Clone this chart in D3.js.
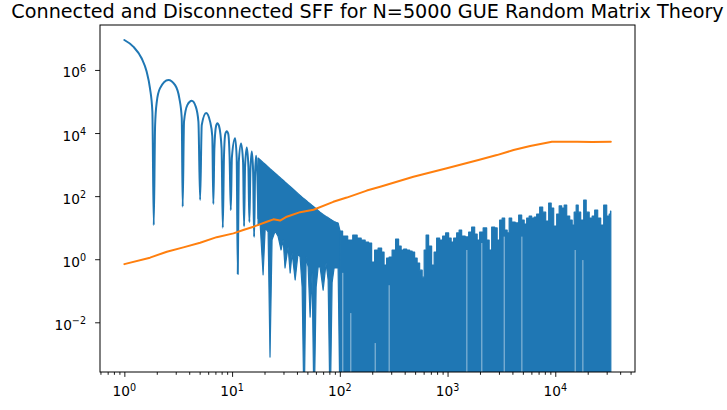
<!DOCTYPE html>
<html>
<head>
<meta charset="utf-8">
<script src="https://cdnjs.cloudflare.com/ajax/libs/d3/7.8.5/d3.min.js"></script>
<style>
  body { margin: 0; background: #fff; }
  svg { display: block; font-family: "DejaVu Sans", sans-serif; }
</style>
</head>
<body>
<div id="chart"></div>
<script>
// disconnected SFF, the early lobes (time, value)
var lobeT = [1, 1.21, 1.45, 1.61, 1.73, 1.82, 1.875,
  1.93, 2.0, 2.14, 2.56, 2.96, 3.24, 3.41, 3.48,
  3.58, 3.85, 4.22, 4.6, 4.87, 5.05,
  5.23, 5.74, 6.25, 6.55, 6.7,
  6.85, 7.1, 7.3, 7.57, 7.99, 8.2,
  8.41, 8.65, 8.93, 9.22, 9.48, 9.73,
  9.96, 10.66, 11.03, 11.3,
  11.54, 12.12, 12.65, 12.92,
  13.2, 13.69, 14.17, 14.47,
  14.79, 15.24, 15.67, 16.01,
  16.35, 16.7, 17.17, 17.54];
var lobeV = [8.9e6, 5.5e6, 2.3e6, 8.9e5, 2.6e5, 4.8e4, 12,
  1.8e4, 9.8e4, 2.6e5, 4.8e5, 3.3e5, 1.26e5, 3.0e4, 46,
  2.3e4, 7.8e4, 1.05e5, 6.9e4, 2.3e4, 76,
  1.8e4, 4.3e4, 2.3e4, 8e3, 56,
  3.2e3, 1.66e4, 2.04e4, 1.66e4, 3.2e3, 10,
  1.8e3, 9.3e3, 1.15e4, 9.3e3, 1.8e3, 36,
  1.7e3, 6.8e3, 1.7e3, 0.34,
  1.2e3, 4.7e3, 1.2e3, 11,
  870, 3.5e3, 870, 15,
  640, 2.6e3, 640, 5.1,
  480, 1.9e3, 480, 20];

// disconnected SFF, dense part: peaks and troughs of the fast oscillation
var denseT = [17.43, 18.2, 19.4, 20.3, 21.6, 22.5, 23.5, 25.1, 26.7, 28.5,
  29.8, 31.0, 33.1, 34.6, 36.1, 38.5, 41.0, 42.8, 44.7, 46.6,
  48.7, 50.8, 53.0, 55.3, 57.7, 60.3, 62.9, 65.6, 70.0, 74.6,
  77.9, 81.3, 84.8, 88.5, 92.4, 96.4, 100.6,
  112, 125, 139, 151, 165, 179, 191, 204, 217, 237,
  252, 263, 281, 293, 319, 340, 363, 379, 404, 431,
  459, 479, 511, 533, 569, 594, 619, 646, 689, 735,
  767, 818, 872, 930, 991, 1057, 1103, 1177, 1254, 1309,
  1396, 1521, 1621, 1729, 1843, 1924, 2051, 2235, 2382, 2486,
  2651, 2827, 2950, 3145, 3283, 3500, 3653, 3813, 4065, 4429,
  4722, 5035, 5255, 5603, 5848, 6235, 6508, 6939, 7398, 7887,
  8409, 8965, 9359, 9979, 10640, 11100, 11840, 12360, 13180, 14050,
  14660, 15300, 15970, 16670, 17770, 18950, 19780, 21550, 22490, 23980,
  25560, 27260, 29060, 30990, 32340, 32768];
var denseHi = [1620, 1418, 1164, 1028, 843, 739, 648, 537, 441, 362,
  320, 281, 230, 202, 178, 146, 120, 105, 92, 82,
  73, 64, 57, 51, 45, 40, 35, 31, 26, 22.6,
  20.8, 18.8, 17.1, 15.7, 14.8, 14.1, 7.8,
  5.4, 4.06, 5.85, 4.7, 4.06, 3.5, 3.26, 0.81, 1.96, 2.26,
  1.69, 0.65, 1.09, 1.17, 1.96, 4.37, 2.62, 1.96, 2.1, 1.96,
  1.82, 1.69, 1.09, 0.76, 0.45, 0.27, 1.96, 5.85, 2.62, 0.65,
  1.69, 4.7, 4.06, 5.4, 6.8, 4.7, 3.5, 4.7, 6.8, 8.4,
  5.4, 5.1, 7.3, 10.5, 6.3, 4.06, 7.3, 9.8, 4.06, 1.96,
  10.5, 9.8, 4.06, 17.5, 20.2, 8.4, 6.8, 20.2, 15.1, 14.1,
  25.2, 17.5, 13.1, 20.2, 23.4, 20.2, 21.8, 27.1, 45, 31,
  16.3, 60.5, 42, 11.3, 27.1, 49, 42, 52.4, 23.4, 17.5,
  12.1, 31, 52.4, 31, 17.5, 75, 31, 20.2, 23.4, 36.3,
  20.2, 12.1, 52.4, 23.4, 27.1, 33.8];
var denseLo = [12.1, 14.1, 0.32, 9.8, 7.3, 7.9e-4, 4.1, 7.8, 5.4, 1.96,
  4.1, 0.53, 2.44, 0.37, 1.57, 0.22, 1.57, 1.17, 0.13, 1e-5,
  1.17, 0.57, 0.0147, 0.37, 1e-5, 0.13, 0.57, 0.57, 0.105, 0.76,
  0.22, 1e-5, 0.18, 0.53, 0.53, 0.53, 1e-5,
  1e-5, 1e-5, 1e-5, 1e-5, 1e-5, 1e-5, 1e-5, 1e-5, 1e-5, 1e-5,
  1e-5, 1e-5, 1e-5, 1e-5, 1e-5, 1e-5, 1e-5, 1e-5, 1e-5, 1e-5,
  1e-5, 1e-5, 1e-5, 1e-5, 1e-5, 1e-5, 1e-5, 1e-5, 1e-5, 1e-5,
  1e-5, 1e-5, 1e-5, 1e-5, 1e-5, 1e-5, 1e-5, 1e-5, 1e-5, 1e-5,
  1e-5, 1e-5, 1e-5, 1e-5, 1e-5, 1e-5, 1e-5, 1e-5, 1e-5, 1e-5,
  1e-5, 1e-5, 1e-5, 1e-5, 1e-5, 1e-5, 1e-5, 1e-5, 1e-5, 1e-5,
  1e-5, 1e-5, 1e-5, 1e-5, 1e-5, 1e-5, 1e-5, 1e-5, 1e-5, 1e-5,
  1e-5, 1e-5, 1e-5, 1e-5, 1e-5, 1e-5, 1e-5, 1e-5, 1e-5, 1e-5,
  1e-5, 1e-5, 1e-5, 1e-5, 1e-5, 1e-5, 1e-5, 1e-5, 1e-5, 1e-5,
  1e-5, 1e-5, 1e-5, 1e-5, 1e-5, 1e-5];

// times where the troughs stay above a floor (thin pale gaps in the band)
var gapT = [106.6, 126.5, 213, 287, 1511, 2080, 3357, 4897, 15300, 18040];
var gapV = [0.37, 0.0196, 2.2e-3, 0.15, 1.96, 3.26, 5.2, 5.2, 1.96, 0.94];

// connected SFF (ramp and plateau)
var rampT = [1, 1.73, 2.48, 3.53, 5.05, 7.2, 10.3, 12.7, 15.8, 21,
  24.2, 27.9, 32.2, 42.8, 57, 87, 116, 178, 237, 482,
  985, 1936, 2870, 4100, 5850, 8350, 9300, 12000, 16000, 22000, 32768];
var rampV = [0.70, 1.12, 1.73, 2.38, 3.33, 5.0, 6.6, 8.4, 10.7, 15.4,
  18.4, 16.8, 22.3, 31, 37, 66, 90, 150, 199, 413,
  762, 1397, 2000, 2900, 3900, 4960, 5300, 5250, 5300, 5200, 5250];

var xTickExp = [0, 1, 2, 3, 4];
var yTickExp = [-2, 0, 2, 4, 6];
var title = "Connected and Disconnected SFF for N=5000 GUE Random Matrix Theory";

var svgWidth = 727, svgHeight = 410;
var plotLeft = 100, plotRight = 635, plotTop = 25, plotBottom = 372;

var svg = d3.select("#chart")
    .append("svg")
    .attr("width", svgWidth)
    .attr("height", svgHeight);

var x = d3.scaleLog().domain([0.5943, 54950]).range([plotLeft, plotRight]);
var y = d3.scaleLog().domain([2.66e-4, 2.66e7]).range([plotBottom, plotTop]);

svg.append("defs").append("clipPath")
    .attr("id", "plot")
  .append("rect")
    .attr("x", plotLeft).attr("y", plotTop)
    .attr("width", plotRight - plotLeft).attr("height", plotBottom - plotTop);

var plot = svg.append("g").attr("clip-path", "url(#plot)");

var lobes = lobeT.map(function(t, i) { return [t, lobeV[i]]; });
var dense = denseT.map(function(t, i) { return [t, denseHi[i], denseLo[i]]; });
var ramp = rampT.map(function(t, i) { return [t, rampV[i]]; });

// the band: straight envelope while it still decays, bar-like after t=100
var band = d3.area()
    .x(function(d) { return x(d[0]); })
    .y0(function(d) { return y(d[2]); })
    .y1(function(d) { return y(d[1]); });

plot.append("path")
    .datum(dense.filter(function(d) { return d[0] <= 100.6; }))
    .attr("d", band.curve(d3.curveLinear))
    .style("fill", "#1f77b4")
    .style("stroke", "#1f77b4")
    .style("stroke-width", 1.2)
    .style("stroke-linejoin", "round");

plot.append("path")
    .datum(dense.filter(function(d) { return d[0] >= 100.6; }))
    .attr("d", band.curve(d3.curveStep))
    .style("fill", "#1f77b4")
    .style("stroke", "#1f77b4")
    .style("stroke-width", 1.2)
    .style("stroke-linejoin", "round");

plot.selectAll(".gap")
    .data(gapT)
    .enter()
    .append("line")
    .attr("class", "gap")
    .attr("x1", function(d) { return x(d); })
    .attr("x2", function(d) { return x(d); })
    .attr("y1", function(d, i) { return y(gapV[i]); })
    .attr("y2", plotBottom)
    .style("stroke", "#fff")
    .style("stroke-opacity", 0.55)
    .style("stroke-width", 1);

plot.append("path")
    .datum(lobes)
    .attr("d", d3.line()
        .x(function(d) { return x(d[0]); })
        .y(function(d) { return y(d[1]); })
        .curve(d3.curveMonotoneX))
    .style("fill", "none")
    .style("stroke", "#1f77b4")
    .style("stroke-width", 2)
    .style("stroke-linecap", "round")
    .style("stroke-linejoin", "round");

plot.append("path")
    .datum(ramp)
    .attr("d", d3.line()
        .x(function(d) { return x(d[0]); })
        .y(function(d) { return y(d[1]); }))
    .style("fill", "none")
    .style("stroke", "#ff7f0e")
    .style("stroke-width", 2)
    .style("stroke-linecap", "round")
    .style("stroke-linejoin", "round");

// axes
var xMajor = xTickExp.map(function(e) { return Math.pow(10, e); });
var xMinor = [];
[-1, 0, 1, 2, 3, 4].forEach(function(e) {
  for (var m = 2; m <= 9; m++) {
    var v = m * Math.pow(10, e);
    if (v >= x.domain()[0] && v <= x.domain()[1]) xMinor.push(v);
  }
});
var yMajor = yTickExp.map(function(e) { return Math.pow(10, e); });

var gx = svg.append("g").attr("transform", "translate(0," + plotBottom + ")");
gx.call(d3.axisBottom(x).tickValues(xMinor).tickSize(2.8).tickFormat(""));
gx.append("g").call(d3.axisBottom(x).tickValues(xMajor).tickSize(4.9).tickFormat(""));

var gy = svg.append("g").attr("transform", "translate(" + plotLeft + ",0)");
gy.call(d3.axisLeft(y).tickValues(yMajor).tickSize(4.9).tickFormat(""));

svg.selectAll(".domain").remove();
svg.selectAll(".tick line").style("stroke", "#000").style("stroke-width", 0.9);

svg.append("rect")
    .attr("x", plotLeft).attr("y", plotTop)
    .attr("width", plotRight - plotLeft).attr("height", plotBottom - plotTop)
    .style("fill", "none")
    .style("stroke", "#000")
    .style("stroke-width", 1);

function expText(sel, e) {
  sel.text("10");
  sel.append("tspan")
      .attr("dy", -5.5)
      .style("font-size", "9.6px")
      .text(String(e).replace("-", "\u2212"));
}

xTickExp.forEach(function(e) {
  svg.append("text")
      .attr("x", x(Math.pow(10, e)))
      .attr("y", 396)
      .attr("text-anchor", "middle")
      .style("font-size", "13.7px")
      .style("fill", "#000")
      .call(expText, e);
});

yTickExp.forEach(function(e) {
  svg.append("text")
      .attr("x", 86)
      .attr("y", y(Math.pow(10, e)) + 7.5)
      .attr("text-anchor", "end")
      .style("font-size", "13.7px")
      .style("fill", "#000")
      .call(expText, e);
});

svg.append("text")
    .attr("x", (plotLeft + plotRight) / 2)
    .attr("y", 18)
    .attr("text-anchor", "middle")
    .style("font-size", "19.2px")
    .style("fill", "#000")
    .text(title);
</script>
</body>
</html>
